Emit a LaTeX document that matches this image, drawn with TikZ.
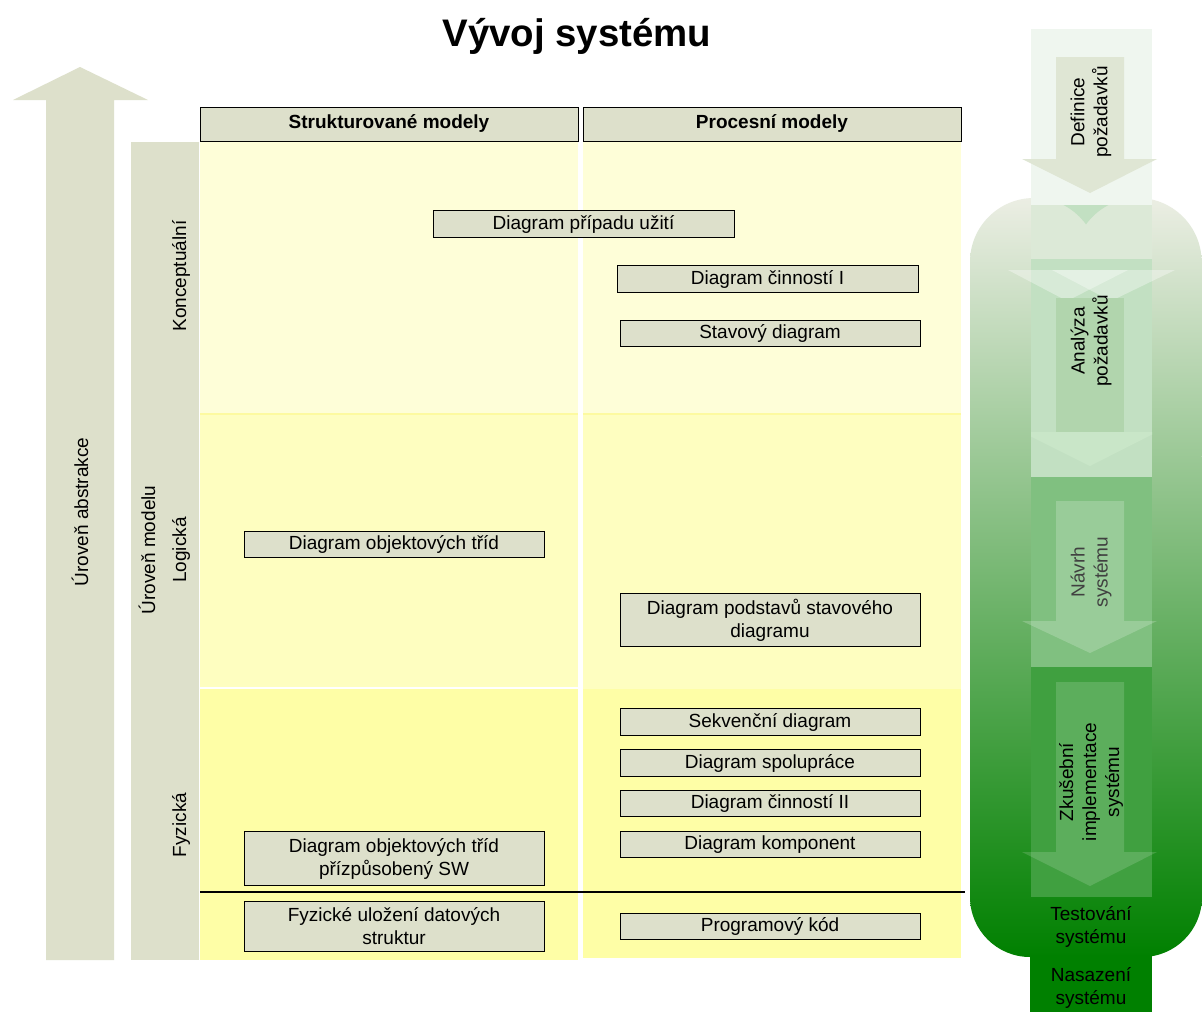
\documentclass[tikz,border=0pt]{standalone}
\usepackage{fontspec}
\setmainfont{Liberation Sans}
\definecolor{boxc}{HTML}{DDE0CB}
\definecolor{conc}{HTML}{FEFED8}
\definecolor{logc}{HTML}{FEFEC0}
\definecolor{physc}{HTML}{FEFEA6}
\definecolor{sepc}{HTML}{FDFAA0}
\definecolor{shtop}{HTML}{EEEFE6}
\definecolor{shbot}{HTML}{008000}
\definecolor{segA}{HTML}{EFF6EF}
\definecolor{arrA}{HTML}{DFE6D4}
\definecolor{segB}{HTML}{C2E0C2}
\definecolor{arrB}{HTML}{B1D5AD}
\definecolor{headB}{HTML}{C9E6C8}
\definecolor{segC}{HTML}{80C080}
\definecolor{segD}{HTML}{40A040}
\definecolor{segE}{HTML}{008000}
\newcommand{\myfs}{\fontsize{19}{23}\selectfont}
\tikzset{
  diag/.style={draw=black, line width=0.9pt, fill=boxc, inner sep=0pt, align=center, font=\myfs},
  hdr/.style={diag, font=\myfs\bfseries},
  vlab/.style={rotate=90, font=\myfs, align=center, inner sep=0pt},
  rlab/.style={rotate=90, font=\myfs, align=center, inner sep=0pt},
}
\begin{document}
\begin{tikzpicture}[x=1pt,y=-1pt]
\useasboundingbox (0,0) rectangle (1202,1012);
\fill[white] (0,0) rectangle (1202,1012);

% title
\node[font=\bfseries\fontsize{38.4}{40}\selectfont, anchor=base] (title) at (577,46) {Vývoj systému};

% left abstraction arrow
\fill[boxc] (46,960) -- (46,100) -- (13,100) -- (80,67) -- (148,100) -- (114,100) -- (114,960) -- cycle;
\node[vlab] (abstr) at (80,512) {Úroveň abstrakce};

% model level column
\fill[boxc] (131,142) rectangle (199,960);
\node[vlab] (umodel) at (147,550) {Úroveň modelu};
\node[vlab] (konc) at (181,276) {Konceptuální};
\node[vlab] (logi) at (181,550) {Logická};
\node[vlab] (fyzi) at (181,825) {Fyzická};

% bands
\fill[conc] (200,142) rectangle (578,413);
\fill[conc] (583,142) rectangle (961,413);
\fill[logc] (200,414) rectangle (578,687);
\fill[logc] (583,414) rectangle (961,689);
\fill[physc] (200,689) rectangle (578,960);
\fill[physc] (583,689) rectangle (961,958);
\draw[sepc, line width=1.5pt] (200,414) -- (578,414) (583,414) -- (961,414);

% headers
\node[hdr, minimum width=378, minimum height=34] (h1) at (389,124) {Strukturované modely};
\node[hdr, minimum width=378, minimum height=34] (h2) at (772,124) {Procesní modely};

% divider
\draw[line width=1.2pt] (200,892) -- (965,892);

% diagram boxes
\node[diag, minimum width=301, minimum height=27] (uc) at (583.5,224) {Diagram případu užití};
\node[diag, minimum width=301, minimum height=27] (act1) at (767.5,279) {Diagram činností I};
\node[diag, minimum width=300, minimum height=26] (stav) at (770,333.5) {Stavový diagram};
\node[diag, minimum width=300, minimum height=26] (obj) at (394,544.5) {Diagram objektových tříd};
\node[diag, minimum width=300, minimum height=53] (podst) at (770,620) {Diagram podstavů stavového\\diagramu};
\node[diag, minimum width=300, minimum height=27] (sekv) at (770,722) {Sekvenční diagram};
\node[diag, minimum width=300, minimum height=27] (spol) at (770,763) {Diagram spolupráce};
\node[diag, minimum width=300, minimum height=26] (act2) at (770,803.5) {Diagram činností II};
\node[diag, minimum width=300, minimum height=26] (komp) at (770,844.5) {Diagram komponent};
\node[diag, minimum width=300, minimum height=54] (objsw) at (394,858.5) {Diagram objektových tříd\\přízpůsobený SW};
\node[diag, minimum width=300, minimum height=50] (fyz) at (394,926.5) {Fyzické uložení datových\\struktur};
\node[diag, minimum width=300, minimum height=26] (kod) at (770,926.5) {Programový kód};

% right: big shaded shape
\shade[top color=shtop, bottom color=shbot]
  (970,897) -- (970,262) arc[start angle=180, end angle=324, radius=64]
  arc[start angle=215.9, end angle=360, radius=64] -- (1202,897)
  arc[start angle=0, end angle=90, radius=60] -- (1030,957)
  arc[start angle=90, end angle=180, radius=60] -- cycle;

% segment 1
\fill[segA] (1031,29) rectangle (1152,205);
\fill[arrA] (1056,57) -- (1124,57) -- (1124,159) -- (1157,159) -- (1090,193) -- (1022,159) -- (1056,159) -- cycle;
\node[rlab] (defin) at (1091,112) {Definice\\požadavků};

% segment 2
\fill[segB] (1031,205) rectangle (1152,477);
\begin{scope}
  \clip (1031,205) rectangle (1152,258);
  \fill[shtop, opacity=0.6] (1034,262) circle[radius=64] (1138,262) circle[radius=64];
\end{scope}
\fill[white, opacity=0.35] (1008,270) -- (1128,270) -- (1067,301) -- cycle;
\fill[white, opacity=0.35] (1052,270) -- (1175,270) -- (1111,301) -- cycle;
\fill[arrB] (1056,298) rectangle (1124,434);
\begin{scope}
  \clip (1031,205) rectangle (1152,477);
  \fill[headB] (1022,432) -- (1157,432) -- (1090,466) -- cycle;
\end{scope}
\node[rlab] (anal) at (1091,341) {Analýza\\požadavků};

% segment 3
\fill[segC] (1031,477) rectangle (1152,667);
\fill[white, opacity=0.2] (1056,501) -- (1124,501) -- (1124,621) -- (1157,621) -- (1090,653) -- (1022,621) -- (1056,621) -- cycle;
\node[rlab, text=black!75] (navrh) at (1091,572) {Návrh\\systému};

% segment 4
\fill[segD] (1031,667) rectangle (1152,897);
\fill[white, opacity=0.15] (1056,682) -- (1124,682) -- (1124,852) -- (1157,852) -- (1090,886) -- (1022,852) -- (1056,852) -- cycle;
\node[rlab] (zkus) at (1091,782) {Zkušební\\implementace\\systému};

% testing + deployment
\node[font=\myfs, align=center, inner sep=0pt] (test) at (1091,927) {Testování\\systému};
\fill[segE] (1030,955) rectangle (1152,1012);
\node[font=\myfs, align=center, inner sep=0pt] (nasaz) at (1091,988) {Nasazení\\systému};
\end{tikzpicture}
\end{document}
